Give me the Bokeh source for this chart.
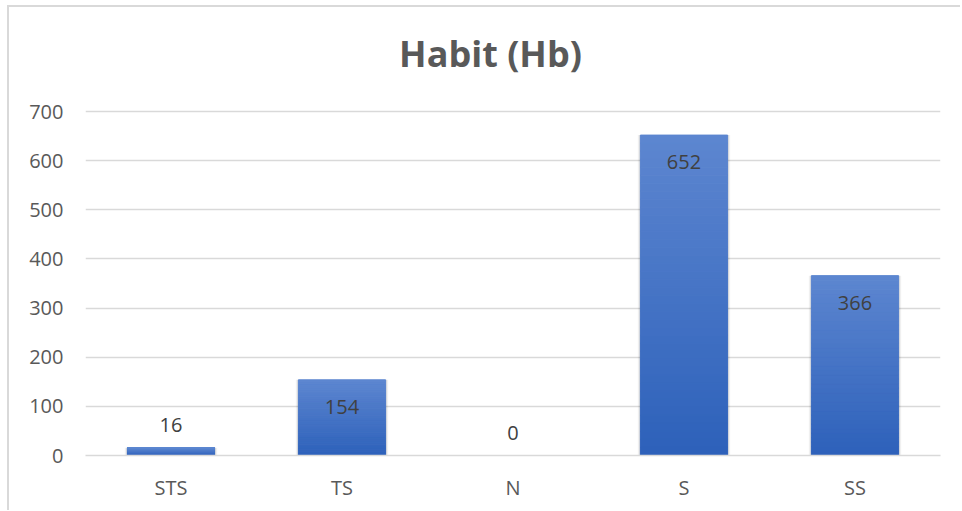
from bokeh.plotting import figure
from bokeh.models import ColumnDataSource, Range1d, Label
from bokeh.core.properties import value
from bokeh.embed import file_html
from bokeh.resources import INLINE

# Response counts per category
categories = ["STS", "TS", "N", "S", "SS"]
counts = [16, 154, 0, 652, 366]
title_text = "Habit (Hb)"
y_ticks = [0, 100, 200, 300, 400, 500, 600, 700]

FONT = "Open Sans"
AXIS_GREY = "#595959"
LABEL_GREY = "#404040"
GRID = "#D9D9D9"
BAR_W = 0.51

# Vertical gradient stops for the bars (bottom -> top)
BOTTOM_RGB = (0x2D, 0x61, 0xBA)
TOP_RGB = (0x5D, 0x86, 0xD0)
N_STEPS = 40

# Layout: the value axis spans 344 px for 0..700; the frame reaches up to the
# top of the canvas so the title can sit inside it, above the last gridline.
AXIS_PX = 344
FRAME_PX = 448
Y_TOP = y_ticks[-1] * FRAME_PX / AXIS_PX


def mix(a, b, t):
    return "#%02x%02x%02x" % tuple(round(a[i] + (b[i] - a[i]) * t) for i in range(3))


p = figure(
    x_range=categories,
    y_range=Range1d(0, Y_TOP),
    width=953,
    height=505,
    output_backend="svg",
    toolbar_location=None,
    min_border_left=76,
    min_border_right=22,
    min_border_top=0,
    min_border_bottom=57,
)
p.margin = (5, 0, 0, 7)
p.styles = {"border-left": "2px solid #D9D9D9", "border-top": "2px solid #D9D9D9"}
p.outline_line_color = None
p.background_fill_color = "white"
p.border_fill_color = "white"

# grid
p.xgrid.grid_line_color = None
p.ygrid.grid_line_color = GRID
p.ygrid.grid_line_width = 1.5
p.yaxis.ticker = y_ticks

# axes
p.yaxis.axis_line_color = None
p.yaxis.major_tick_line_color = None
p.yaxis.minor_tick_line_color = None
p.yaxis.major_tick_out = 0
p.yaxis.major_label_standoff = 22
p.yaxis.major_label_text_font = FONT
p.yaxis.major_label_text_font_size = "20px"
p.yaxis.major_label_text_color = AXIS_GREY

p.xaxis.axis_line_color = GRID
p.xaxis.axis_line_width = 1.5
p.xaxis.major_tick_line_color = None
p.xaxis.minor_tick_line_color = None
p.xaxis.major_tick_out = 0
p.xaxis.major_label_standoff = 18
p.xaxis.major_label_text_font = FONT
p.xaxis.major_label_text_font_size = "20px"
p.xaxis.major_label_text_color = AXIS_GREY

# soft shadow behind the bars
shadow = ColumnDataSource(dict(x=categories, top=counts))
for grow, alpha in [(0.03, 0.05), (0.018, 0.07)]:
    p.vbar(x="x", top="top", bottom=0, width=BAR_W + grow, source=shadow,
           fill_color="#000000", fill_alpha=alpha, line_color=None)

# gradient bars built from stacked slices of each count
xs, bottoms, tops, colors = [], [], [], []
for cat, v in zip(categories, counts):
    if v <= 0:
        continue
    for k in range(N_STEPS):
        f0 = k / N_STEPS
        f1 = (k + 1) / N_STEPS
        xs.append(cat)
        bottoms.append(v * f0)
        tops.append(v * f1)
        colors.append(mix(BOTTOM_RGB, TOP_RGB, (f0 + f1) / 2))
bars = ColumnDataSource(dict(x=xs, bottom=bottoms, top=tops, color=colors))
p.vbar(x="x", bottom="bottom", top="top", width=BAR_W, source=bars,
       fill_color="color", line_color="color", line_width=1)

# value labels: inside the top of tall bars, above short ones
offsets = [27 if v > 60 else -23 for v in counts]
labels = ColumnDataSource(dict(x=categories, y=counts,
                               text=[str(v) for v in counts], dy=offsets))
p.text(x="x", y="y", text="text", y_offset="dy", source=labels,
       text_font=value(FONT), text_font_size="20px", text_color=LABEL_GREY,
       text_align="center", text_baseline="middle")

# chart title (screen units, measured from the frame's lower-left corner)
p.add_layout(Label(x=405, y=402, x_units="screen", y_units="screen",
                   text=title_text, text_font=FONT, text_font_size="36px",
                   text_font_style="bold", text_color=AXIS_GREY,
                   text_align="center", text_baseline="middle"))

open("out.html", "w").write(file_html(p, INLINE))
